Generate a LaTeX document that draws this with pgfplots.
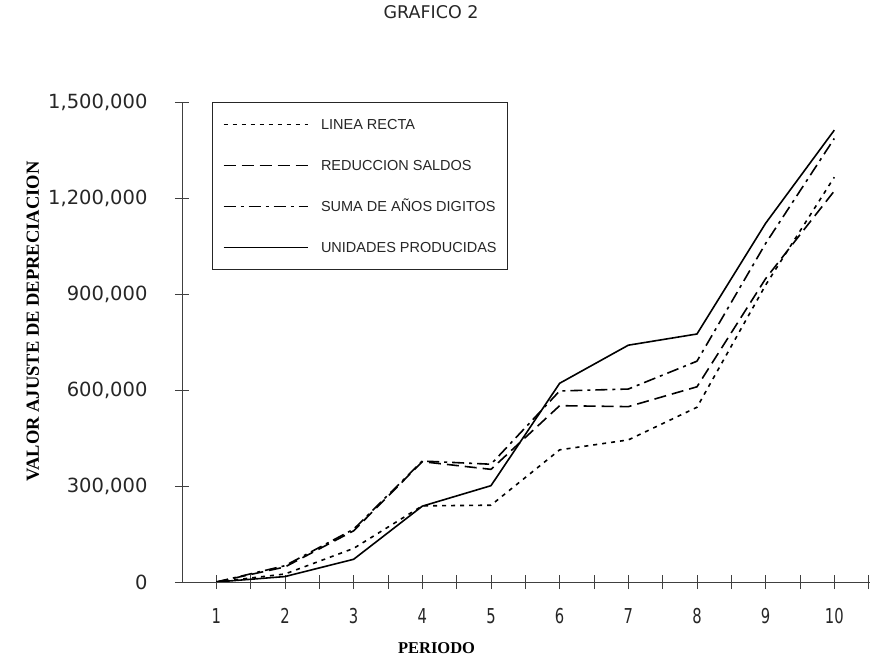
\documentclass[border=0pt]{standalone}
\usepackage{pgfplots}
\pgfplotsset{compat=1.18}
\usepackage{graphicx}
\usepackage{fontspec}
\setmainfont{Liberation Sans}
\newfontfamily\tickfont{DejaVu Sans}
\newfontfamily\labelfont{Liberation Serif}

% Depreciation adjustment per period, one table per method
\pgfplotstableread{
x y
1 0
2 25000
3 105000
4 238000
5 240000
6 413000
7 444000
8 546000
9 928000
10 1265000
}\lineares
\pgfplotstableread{
x y
1 0
2 47000
3 160000
4 376000
5 352000
6 551000
7 548000
8 610000
9 948000
10 1222000
}\reduccion
\pgfplotstableread{
x y
1 0
2 51000
3 165000
4 378000
5 368000
6 597000
7 603000
8 690000
9 1058000
10 1386000
}\suma
\pgfplotstableread{
x y
1 0
2 17000
3 71000
4 237000
5 301000
6 621000
7 740000
8 775000
9 1121000
10 1412000
}\unidades

\begin{document}
\begin{tikzpicture}
\useasboundingbox (-182pt,-81pt) rectangle (698pt,582pt);
\begin{axis}[
  at={(0pt,0pt)}, anchor=south west,
  scale only axis, width=688pt, height=480pt,
  xmin=0.5, xmax=10.52, ymin=0, ymax=1500000,
  axis lines=left,
  axis line style={-, black!75, line width=0.7pt},
  xtick={1,...,10},
  minor xtick={1.5,2.5,...,10.5},
  ytick={0,300000,600000,900000,1200000,1500000},
  tick align=center,
  major tick length=14pt, minor tick length=14pt,
  tick style={black!75, line width=0.6pt},
  scaled y ticks=false,
  no markers,
  /pgf/number format/assume math mode=true,
  /pgf/number format/.cd, fixed, 1000 sep={,},
  /pgfplots/.cd,
  xticklabel={\scalebox{0.72}[1]{\pgfmathprintnumber{\tick}}},
  xticklabel style={font=\tickfont\fontsize{20.5}{20.5}\selectfont, text=black!85, yshift=-16pt},
  yticklabel style={font=\tickfont\fontsize{19.5}{19.5}\selectfont, text=black!85, xshift=-24pt},
  title={GRAFICO 2},
  title style={font=\tickfont\fontsize{17.5}{17.5}\selectfont, text=black!85,
    at={(axis description cs:0.362,1.175)}, anchor=center},
  xlabel={PERIODO},
  xlabel style={font=\labelfont\bfseries\fontsize{16.5}{16.5}\selectfont,
    at={(axis description cs:0.370,-0.1375)}, anchor=center},
  ylabel={VALOR AJUSTE DE DEPRECIACION},
  ylabel style={font=\labelfont\bfseries\fontsize{18.5}{18.5}\selectfont,
    at={(axis description cs:-0.2166,0.5427)}, anchor=center},
  legend style={at={(axis description cs:0.0432,1)}, anchor=north west,
    draw=black!85, line width=0.8pt,
    font=\fontsize{14.5}{14.5}\selectfont, text=black!85,
    inner xsep=11pt, inner ysep=17pt, row sep=30.5pt, column sep=13pt,
    nodes={inner sep=0pt, text height=10.5pt, text depth=0pt},
    cells={anchor=west}},
  legend image code/.code={\draw[#1, line width=0.9pt] (0pt,0pt) -- (84pt,0pt);},
]
\addplot[black, line width=1.6pt, line join=round, dash pattern=on 4pt off 5pt] table {\lineares};
\addlegendentry{LINEA RECTA}
\addplot[black, line width=1.6pt, line join=round, dash pattern=on 12pt off 6pt] table {\reduccion};
\addlegendentry{REDUCCION SALDOS}
\addplot[black, line width=1.6pt, line join=round, dash pattern=on 12pt off 5pt on 3pt off 5pt] table {\suma};
\addlegendentry{SUMA DE AÑOS DIGITOS}
\addplot[black, line width=1.6pt, line join=round] table {\unidades};
\addlegendentry{UNIDADES PRODUCIDAS}
\end{axis}
\end{tikzpicture}
\end{document}
